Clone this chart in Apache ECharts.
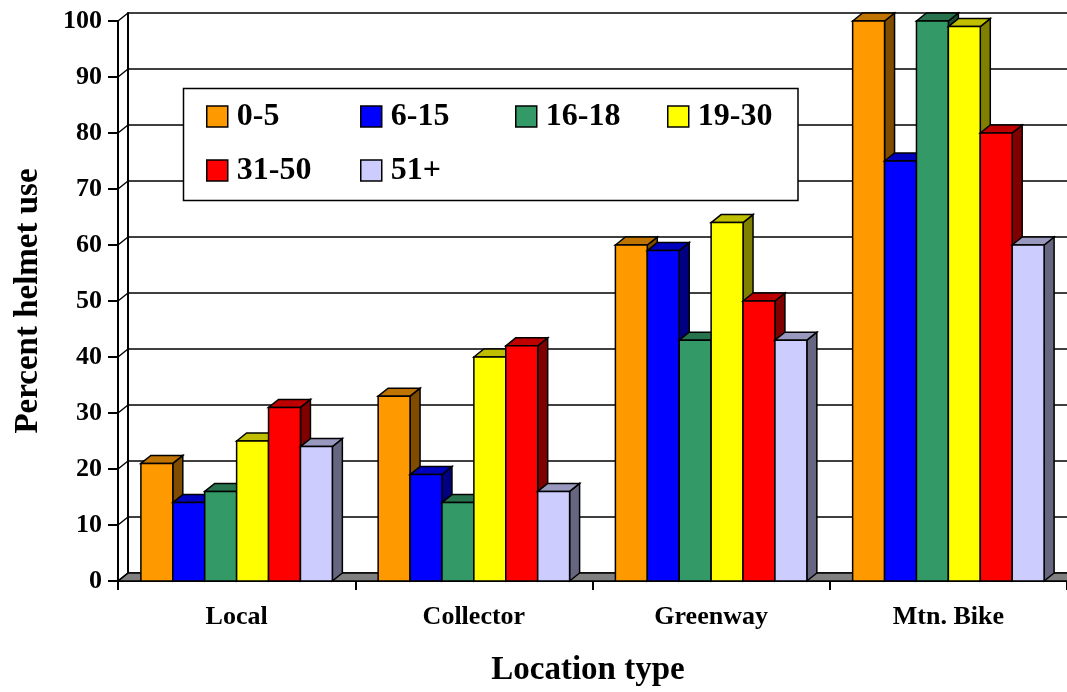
<!DOCTYPE html>
<html>
<head>
<meta charset="utf-8">
<title>Percent helmet use by location type</title>
<script src="https://cdn.jsdelivr.net/npm/echarts@6/dist/echarts.min.js"></script>
<style>
  html, body { margin: 0; padding: 0; background: #ffffff; }
  #chart { width: 1067px; height: 692px; }
</style>
</head>
<body>
<div id="chart"></div>
<script>
// Helmet use (%) by location type and rider age group
const locations = ['Local', 'Collector', 'Greenway', 'Mtn. Bike'];
const ageGroups = ['0-5', '6-15', '16-18', '19-30', '31-50', '51+'];
const age0to5   = [21, 33, 60, 100];
const age6to15  = [14, 19, 59, 75];
const age16to18 = [16, 14, 43, 100];
const age19to30 = [25, 40, 64, 99];
const age31to50 = [31, 42, 50, 80];
const age51plus = [24, 16, 43, 60];
const yTicks = [0, 10, 20, 30, 40, 50, 60, 70, 80, 90, 100];

const groupValues = [age0to5, age6to15, age16to18, age19to30, age31to50, age51plus];
const groupColors = ['#FF9900', '#0000FF', '#339966', '#FFFF00', '#FF0000', '#CCCCFF'];

// depth of the pseudo-3D box (screen offset from front plane to back wall)
const DX = 10, DY = -8;
const CAT_GAP = 0.193;
const FONT = "'Liberation Serif', 'Times New Roman', serif";

function shade(hex, f) {
  const n = parseInt(hex.slice(1), 16);
  const r = Math.round(((n >> 16) & 255) * f);
  const g = Math.round(((n >> 8) & 255) * f);
  const b = Math.round((n & 255) * f);
  return 'rgb(' + r + ',' + g + ',' + b + ')';
}

const outline = { stroke: '#000', lineWidth: 1.5, lineJoin: 'miter' };

function barRenderer(gi) {
  const color = groupColors[gi];
  return function (params, api) {
    const cat = api.value(0);
    const v = api.value(1);
    const base = api.coord([cat, 0]);
    const top = api.coord([cat, v]);
    const band = api.size([1, 0])[0];
    const groupW = band * (1 - CAT_GAP);
    const w = groupW / ageGroups.length;
    const x0 = base[0] - groupW / 2 + gi * w;
    const x1 = x0 + w;
    const yt = top[1], yb = base[1];
    return {
      type: 'group',
      children: [
        {
          type: 'polygon', z2: gi * 3,
          shape: { points: [[x1, yt], [x1 + DX, yt + DY], [x1 + DX, yb + DY], [x1, yb]] },
          style: Object.assign({ fill: shade(color, 0.5) }, outline)
        },
        {
          type: 'polygon', z2: gi * 3 + 1,
          shape: { points: [[x0, yt], [x0 + DX, yt + DY], [x1 + DX, yt + DY], [x1, yt]] },
          style: Object.assign({ fill: shade(color, 0.75) }, outline)
        },
        {
          type: 'rect', z2: gi * 3 + 2,
          shape: { x: x0, y: yt, width: w, height: yb - yt },
          style: Object.assign({ fill: color }, outline)
        }
      ]
    };
  };
}

const barSeries = ageGroups.map(function (name, gi) {
  return {
    name: name,
    type: 'custom',
    xAxisIndex: 0,
    yAxisIndex: 0,
    clip: false,
    z: 3,
    itemStyle: { color: groupColors[gi] },
    encode: { x: 0, y: 1 },
    data: groupValues[gi].map(function (v, ci) { return [ci, v]; }),
    renderItem: barRenderer(gi)
  };
});

// floor of the box
const floorSeries = {
  type: 'custom',
  xAxisIndex: 0, yAxisIndex: 0,
  clip: false, silent: true, z: 1,
  data: [[0, 0]],
  encode: { x: 0, y: 1 },
  renderItem: function (params, api) {
    const cs = params.coordSys;
    const y0 = api.coord([0, 0])[1];
    return {
      type: 'polygon',
      shape: { points: [[cs.x, y0], [cs.x + DX, y0 + DY], [cs.x + cs.width + DX, y0 + DY], [cs.x + cs.width, y0]] },
      style: { fill: '#808080', stroke: '#000', lineWidth: 1.5 }
    };
  }
};

// left side wall: joins each front tick to its back-wall gridline
const sideWallSeries = {
  type: 'custom',
  xAxisIndex: 0, yAxisIndex: 0,
  clip: false, silent: true, z: 2,
  data: yTicks.map(function (t) { return [0, t]; }),
  encode: { x: 0, y: 1 },
  renderItem: function (params, api) {
    const cs = params.coordSys;
    const y = api.coord([0, api.value(1)])[1];
    return {
      type: 'line',
      shape: { x1: cs.x, y1: y, x2: cs.x + DX, y2: y + DY },
      style: { stroke: '#000', lineWidth: 1.5 }
    };
  }
};

// legend: a 4-column grid of entries inside one framed box
const legendCols = [206, 360, 515, 667];
const legendRows = [100.5, 154.5];
const legends = ageGroups.map(function (name, i) {
  return {
    data: [name],
    left: legendCols[i % 4],
    top: legendRows[Math.floor(i / 4)],
    padding: 0,
    itemWidth: 21, itemHeight: 21,
    icon: 'rect',
    itemStyle: { borderColor: '#000', borderWidth: 1.5 },
    textStyle: {
      fontFamily: FONT, fontWeight: 'bold', fontSize: 32, color: '#000',
      padding: [0, 0, 0, 4]
    },
    selectedMode: false
  };
});

const chart = echarts.init(document.getElementById('chart'), null, { renderer: 'canvas' });
chart.setOption({
  animation: false,
  backgroundColor: '#ffffff',
  textStyle: { fontFamily: FONT },
  grid: [
    { left: 118, top: 21, width: 950, height: 560 },
    { left: 118 + DX, top: 21 + DY, width: 950, height: 560 }
  ],
  graphic: [{
    type: 'rect', z: 3, silent: true,
    shape: { x: 183.5, y: 88.5, width: 614.5, height: 112 },
    style: { fill: '#ffffff', stroke: '#000', lineWidth: 1.5 }
  }],
  legend: legends,
  xAxis: [
    {
      type: 'category', gridIndex: 0,
      data: locations,
      name: 'Location type',
      nameLocation: 'middle',
      nameGap: 73,
      nameTextStyle: { fontFamily: FONT, fontWeight: 'bold', fontSize: 33, color: '#000', padding: [0, 9, 0, 0] },
      axisLine: { show: true, lineStyle: { color: '#000', width: 2 } },
      axisTick: { show: true, length: 9, lineStyle: { color: '#000', width: 2 } },
      axisLabel: { fontFamily: FONT, fontWeight: 'bold', fontSize: 26, color: '#000', margin: 23 },
      splitLine: { show: false }
    },
    {
      type: 'category', gridIndex: 1, data: locations, show: false
    }
  ],
  yAxis: [
    {
      type: 'value', gridIndex: 0,
      min: 0, max: 100, interval: 10,
      name: 'Percent helmet use',
      nameLocation: 'middle',
      nameGap: 73,
      nameRotate: 90,
      nameTextStyle: { fontFamily: FONT, fontWeight: 'bold', fontSize: 33, color: '#000' },
      axisLine: { show: true, lineStyle: { color: '#000', width: 2 } },
      axisTick: { show: true, length: 10, lineStyle: { color: '#000', width: 2 } },
      axisLabel: { fontFamily: FONT, fontWeight: 'bold', fontSize: 26, color: '#000', margin: 16 },
      splitLine: { show: false }
    },
    {
      // back wall with its gridlines
      type: 'value', gridIndex: 1,
      min: 0, max: 100, interval: 10,
      axisLine: { show: true, lineStyle: { color: '#000', width: 2 } },
      axisTick: { show: false },
      axisLabel: { show: false },
      splitLine: { show: true, lineStyle: { color: '#000', width: 1.6 } }
    }
  ],
  series: [floorSeries, sideWallSeries].concat(barSeries)
});
</script>
</body>
</html>
